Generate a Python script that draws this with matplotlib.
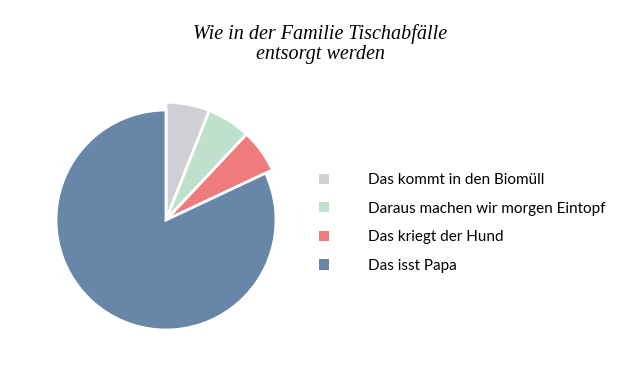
import matplotlib.pyplot as plt
from matplotlib.patches import Patch

labels = ['Das kommt in den Biomüll', 'Daraus machen wir morgen Eintopf',
          'Das kriegt der Hund', 'Das isst Papa']
values = [6, 6, 6, 82]
colors = ['#d0d0d4', '#bfe0cd', '#ee7c7c', '#6887a8']

W, H = 640, 383
fig = plt.figure(figsize=(W / 100, H / 100), dpi=100)
# pie centre at (166, 220) px from top-left, radius 110 px
ax = fig.add_axes([(166 - 165) / W, (H - 220 - 165) / H, 330 / W, 330 / H])

wedges, _ = ax.pie(values, colors=colors, startangle=90, counterclock=False,
                   radius=1.0, wedgeprops=dict(edgecolor='white', linewidth=2))
# the three small slices stick out a little further than the big one
for w in wedges[:3]:
    w.set_radius(1.07)
ax.set_xlim(-1.5, 1.5)
ax.set_ylim(-1.5, 1.5)
ax.set_aspect('equal')

fig.text(0.5, 1 - 44 / H, 'Wie in der Familie Tischabfälle\nentsorgt werden',
         ha='center', va='center', fontsize=14.5, style='italic',
         family='Liberation Serif', linespacing=1.1)

handles = [Patch(facecolor=c, edgecolor='none') for c in colors]
fig.legend(handles, labels, loc='center left', bbox_to_anchor=(319 / W, 1 - 223 / H),
           frameon=False, handlelength=0.65, handleheight=0.65,
           handletextpad=2.55, labelspacing=0.95, borderpad=0, borderaxespad=0,
           prop={'family': 'Lato', 'size': 11})

plt.savefig('out.png', dpi=100)
